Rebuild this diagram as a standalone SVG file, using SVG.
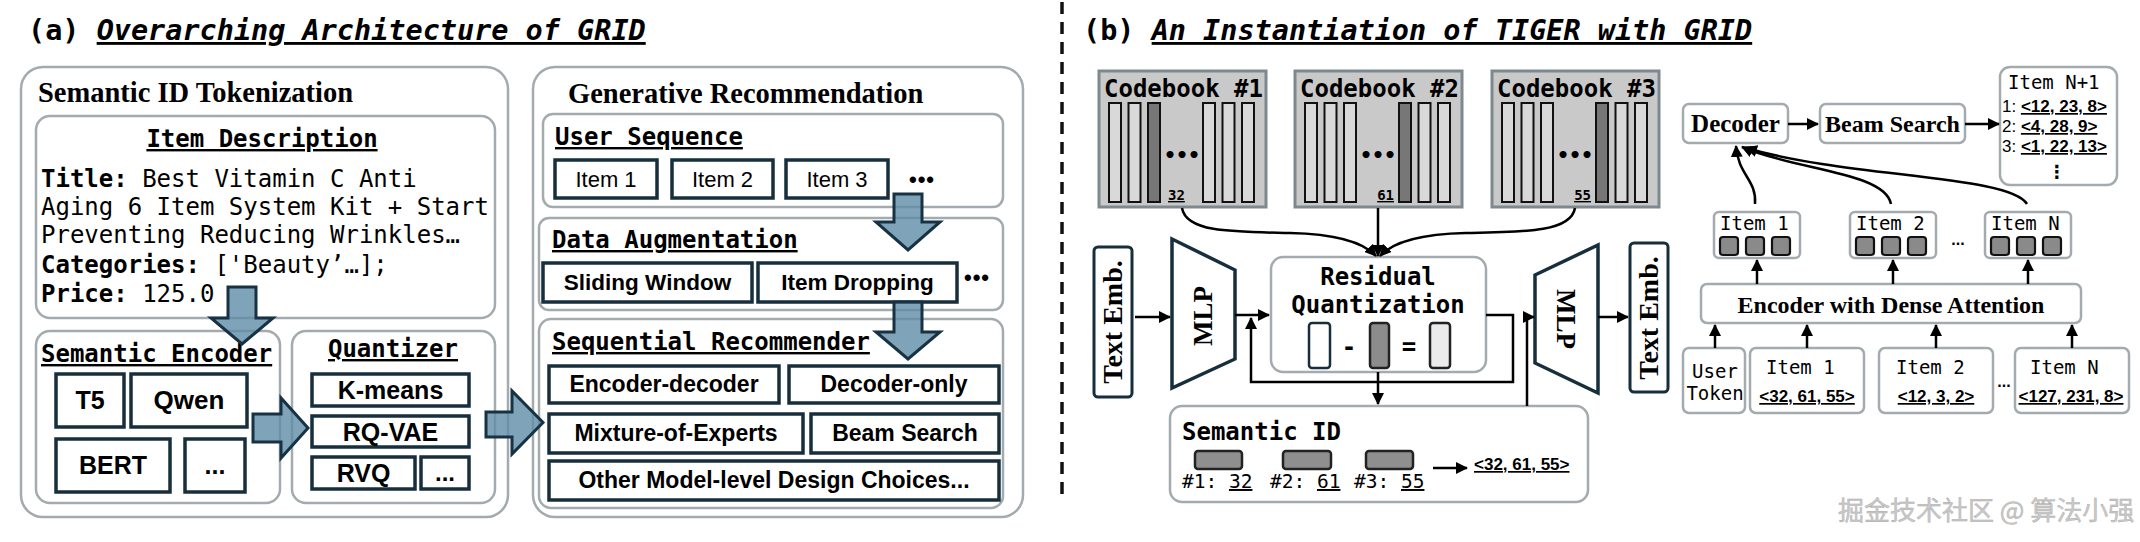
<svg xmlns="http://www.w3.org/2000/svg" width="2140" height="542" viewBox="0 0 2140 542">
<defs>
<style>
.gbox{fill:#fff;stroke:#a3abae;stroke-width:2.5}
.nbox{fill:#fff;stroke:#172f3c;stroke-width:3.5}
.mono{font-family:"DejaVu Sans Mono","Liberation Mono",monospace}
.b{font-weight:bold}
.serif{font-family:"Liberation Serif","DejaVu Serif",serif;font-weight:bold}
.sans{font-family:"Liberation Sans",Arial,sans-serif}
.u{text-decoration:underline}
.mid{text-anchor:middle}
.big{fill:#5f8ca6;fill-opacity:0.8;stroke:#173243;stroke-width:3;stroke-linejoin:miter}
.line{fill:none;stroke:#000;stroke-width:2.5}
.cb{fill:#c9c9c9;stroke:#7d898e;stroke-width:3}
.bar{fill:#d9d9d9;stroke:#111;stroke-width:2}
.bard{fill:#777;stroke:#111;stroke-width:2}
.sq{fill:#8a8a8a;stroke:#111;stroke-width:2.2}
</style>
<marker id="ah" viewBox="0 0 12 12" refX="11" refY="6" markerWidth="12" markerHeight="12" markerUnits="userSpaceOnUse" orient="auto">
<path d="M0,0 L12,6 L0,12 z" fill="#000"/>
</marker>
</defs>
<rect width="2140" height="542" fill="#fff"/>

<!-- Titles -->
<text x="28" y="40" class="mono b" font-size="28.5">(a) <tspan font-style="italic" class="u">Overarching Architecture of GRID</tspan></text>
<text x="1083" y="40" class="mono b" font-size="28.5">(b) <tspan font-style="italic" class="u">An Instantiation of TIGER with GRID</tspan></text>

<line x1="1062" y1="2" x2="1062" y2="498" stroke="#111" stroke-width="3.5" stroke-dasharray="12 8"/>

<!-- Panel (a) left -->
<g id="tokenization">
<rect x="21" y="67" width="487" height="450" rx="22" class="gbox"/>
<text x="38" y="102" class="serif" font-size="28.5">Semantic ID Tokenization</text>
</g>
<g id="item-description">
<rect x="36" y="116" width="459" height="202" rx="14" class="gbox"/>
<text x="262" y="147" class="mono b u mid" font-size="24">Item Description</text>
<text x="41" y="187" class="mono" font-size="24"><tspan font-weight="bold">Title:</tspan> Best Vitamin C Anti</text>
<text x="41" y="215" class="mono" font-size="24">Aging 6 Item System Kit + Start</text>
<text x="41" y="243" class="mono" font-size="24">Preventing Reducing Wrinkles…</text>
<text x="41" y="273" class="mono" font-size="24"><tspan font-weight="bold">Categories:</tspan> ['Beauty’…];</text>
<text x="41" y="302" class="mono" font-size="24"><tspan font-weight="bold">Price:</tspan> 125.0</text>
</g>
<g id="semantic-encoder">
<rect x="36" y="331" width="244" height="172" rx="14" class="gbox"/>
<text x="41" y="362" class="mono b u" font-size="24">Semantic Encoder</text>
<rect x="56" y="374" width="68" height="53" class="nbox"/>
<text x="90" y="409" class="sans b mid" font-size="25">T5</text>
<rect x="131" y="374" width="116" height="53" class="nbox"/>
<text x="189" y="409" class="sans b mid" font-size="26">Qwen</text>
<rect x="56" y="439" width="114" height="53" class="nbox"/>
<text x="113" y="474" class="sans b mid" font-size="25">BERT</text>
<rect x="185" y="439" width="60" height="53" class="nbox"/>
<text x="215" y="474" class="sans b mid" font-size="25">...</text>
</g>
<g id="quantizer">
<rect x="292" y="331" width="203" height="172" rx="14" class="gbox"/>
<text x="393" y="357" class="mono b u mid" font-size="24">Quantizer</text>
<rect x="312" y="374" width="157" height="32" class="nbox"/>
<text x="390.5" y="399" class="sans b mid" font-size="25">K-means</text>
<rect x="312" y="416" width="157" height="31" class="nbox"/>
<text x="390.5" y="441" class="sans b mid" font-size="25">RQ-VAE</text>
<rect x="312" y="457" width="103" height="32" class="nbox"/>
<text x="363.5" y="482" class="sans b mid" font-size="25">RVQ</text>
<rect x="421" y="457" width="48" height="32" class="nbox"/>
<text x="445" y="481" class="sans b mid" font-size="24">...</text>
</g>

<!-- Panel (a) right -->
<g id="generative">
<rect x="533" y="67" width="490" height="450" rx="22" class="gbox"/>
<text x="568" y="103" class="serif" font-size="28.5">Generative Recommendation</text>
</g>
<g id="user-sequence">
<rect x="543" y="114" width="460" height="93" rx="10" class="gbox"/>
<text x="555" y="145" class="mono b u" font-size="24">User Sequence</text>
<rect x="555" y="160" width="102" height="38" class="nbox"/>
<text x="606" y="187" class="sans mid" font-size="22">Item 1</text>
<rect x="672" y="160" width="101" height="38" class="nbox"/>
<text x="722.5" y="187" class="sans mid" font-size="22">Item 2</text>
<rect x="786" y="160" width="102" height="38" class="nbox"/>
<text x="837" y="187" class="sans mid" font-size="22">Item 3</text>
<text x="922" y="187" class="sans b mid" font-size="22" letter-spacing="1">•••</text>
</g>
<g id="data-augmentation">
<rect x="539" y="218" width="464" height="92" rx="10" class="gbox"/>
<text x="552" y="248" class="mono b u" font-size="24">Data Augmentation</text>
<rect x="543" y="263" width="209" height="39" class="nbox"/>
<text x="647.5" y="290" class="sans b mid" font-size="22.5">Sliding Window</text>
<rect x="758" y="263" width="199" height="39" class="nbox"/>
<text x="857.5" y="290" class="sans b mid" font-size="22.5">Item Dropping</text>
<text x="977" y="285" class="sans b mid" font-size="22" letter-spacing="1">•••</text>
</g>
<g id="sequential-recommender">
<rect x="539" y="319" width="464" height="189" rx="12" class="gbox"/>
<text x="552" y="350" class="mono b u" font-size="24">Sequential Recommender</text>
<rect x="549" y="366" width="230" height="37" class="nbox"/>
<text x="664" y="392" class="sans b mid" font-size="23">Encoder-decoder</text>
<rect x="789" y="366" width="210" height="37" class="nbox"/>
<text x="894" y="392" class="sans b mid" font-size="23">Decoder-only</text>
<rect x="549" y="414" width="254" height="39" class="nbox"/>
<text x="676" y="441" class="sans b mid" font-size="23">Mixture-of-Experts</text>
<rect x="811" y="414" width="188" height="39" class="nbox"/>
<text x="905" y="441" class="sans b mid" font-size="23">Beam Search</text>
<rect x="549" y="461" width="450" height="39" class="nbox"/>
<text x="774" y="488" class="sans b mid" font-size="23">Other Model-level Design Choices...</text>
</g>

<!-- Panel (b) codebooks -->
<g id="codebook-1">
<rect x="1099" y="71" width="167" height="136" class="cb"/>
<text x="1104" y="97" class="mono b" font-size="24">Codebook #1</text>
<rect x="1109" y="103" width="12" height="99" class="bar"/>
<rect x="1128.5" y="103" width="12" height="99" class="bar"/>
<rect x="1148" y="103" width="12" height="99" class="bard"/>
<rect x="1203" y="103" width="12" height="99" class="bar"/>
<rect x="1222.5" y="103" width="12" height="99" class="bar"/>
<rect x="1242" y="103" width="12" height="99" class="bar"/>
<text x="1182" y="162" class="mono b mid" font-size="20">•••</text>
<text x="1168" y="200" class="mono b u" font-size="14">32</text>
</g>
<g id="codebook-2">
<rect x="1295" y="71" width="167" height="136" class="cb"/>
<text x="1300" y="97" class="mono b" font-size="24">Codebook #2</text>
<rect x="1305" y="103" width="12" height="99" class="bar"/>
<rect x="1324.5" y="103" width="12" height="99" class="bar"/>
<rect x="1344" y="103" width="12" height="99" class="bar"/>
<rect x="1399" y="103" width="12" height="99" class="bard"/>
<rect x="1418.5" y="103" width="12" height="99" class="bar"/>
<rect x="1438" y="103" width="12" height="99" class="bar"/>
<text x="1378" y="162" class="mono b mid" font-size="20">•••</text>
<text x="1394" y="200" class="mono b u" font-size="14" text-anchor="end">61</text>
</g>
<g id="codebook-3">
<rect x="1492" y="71" width="167" height="136" class="cb"/>
<text x="1497" y="97" class="mono b" font-size="24">Codebook #3</text>
<rect x="1502" y="103" width="12" height="99" class="bar"/>
<rect x="1521.5" y="103" width="12" height="99" class="bar"/>
<rect x="1541" y="103" width="12" height="99" class="bar"/>
<rect x="1596" y="103" width="12" height="99" class="bard"/>
<rect x="1615.5" y="103" width="12" height="99" class="bar"/>
<rect x="1635" y="103" width="12" height="99" class="bar"/>
<text x="1575" y="162" class="mono b mid" font-size="20">•••</text>
<text x="1591" y="200" class="mono b u" font-size="14" text-anchor="end">55</text>
</g>

<g id="text-emb-left">
<rect x="1094" y="247" width="38" height="150" rx="4" fill="#fff" stroke="#172f3c" stroke-width="3"/>
<text transform="translate(1122,322) rotate(-90)" class="serif mid" font-size="28" font-weight="normal">Text Emb.</text>
</g>
<g id="mlp-left">
<polygon points="1172,239 1235,270 1235,359 1172,388" fill="#fff" stroke="#172f3c" stroke-width="3.5"/>
<text transform="translate(1212,316) rotate(-90)" class="serif mid" font-size="27">MLP</text>
</g>
<g id="residual-quantization">
<rect x="1271" y="257" width="215" height="115" rx="12" class="gbox"/>
<text x="1378" y="285" class="mono b mid" font-size="24">Residual</text>
<text x="1378" y="313" class="mono b mid" font-size="24">Quantization</text>
<rect x="1309" y="323" width="21" height="45" rx="3" fill="#fff" stroke="#172f3c" stroke-width="2.5"/>
<text x="1349" y="355" class="mono b mid" font-size="24">-</text>
<rect x="1370" y="323" width="19" height="45" rx="3" fill="#8c8c8c" stroke="#222" stroke-width="2.5"/>
<text x="1409" y="355" class="mono b mid" font-size="24">=</text>
<rect x="1430" y="323" width="20" height="45" rx="3" fill="#ebebeb" stroke="#222" stroke-width="2.5"/>
</g>
<g id="semantic-id">
<rect x="1170" y="406" width="418" height="96" rx="12" class="gbox"/>
<text x="1182" y="440" class="mono b" font-size="24">Semantic ID</text>
<rect x="1195" y="451" width="47" height="18" rx="3" fill="#8f8f8f" stroke="#222" stroke-width="2.5"/>
<rect x="1283" y="451" width="48" height="18" rx="3" fill="#8f8f8f" stroke="#222" stroke-width="2.5"/>
<rect x="1366" y="451" width="47" height="18" rx="3" fill="#8f8f8f" stroke="#222" stroke-width="2.5"/>
<text x="1182" y="488" class="mono" font-size="19.5">#1: <tspan class="u">32</tspan></text>
<text x="1270" y="488" class="mono" font-size="19.5">#2: <tspan class="u">61</tspan></text>
<text x="1354" y="488" class="mono" font-size="19.5">#3: <tspan class="u">55</tspan></text>
<text x="1474" y="470" class="sans b u" font-size="17">&lt;32, 61, 55&gt;</text>
</g>
<g id="mlp-right">
<polygon points="1535,275 1598,245 1598,393 1535,363" fill="#fff" stroke="#172f3c" stroke-width="3.5"/>
<text transform="translate(1557,319) rotate(90)" class="serif mid" font-size="27">MLP</text>
</g>
<g id="text-emb-right">
<rect x="1630" y="243" width="38" height="149" rx="4" fill="#fff" stroke="#172f3c" stroke-width="3"/>
<text transform="translate(1658,318) rotate(-90)" class="serif mid" font-size="28" font-weight="normal">Text Emb.</text>
</g>

<!-- TIGER right side -->
<g id="decoder">
<rect x="1683" y="104" width="105" height="39" rx="6" class="gbox"/>
<text x="1735.5" y="132" class="serif mid" font-size="25">Decoder</text>
</g>
<g id="beam-search">
<rect x="1820" y="104" width="145" height="39" rx="6" class="gbox"/>
<text x="1892.5" y="132" class="serif mid" font-size="24">Beam Search</text>
</g>
<g id="item-n1">
<rect x="2000" y="67" width="117" height="118" rx="10" class="gbox"/>
<text x="2008" y="89" class="mono" font-size="19">Item N+1</text>
<text x="2002" y="112" class="sans" font-size="17">1: <tspan font-weight="bold" class="u">&lt;12, 23, 8&gt;</tspan></text>
<text x="2002" y="132" class="sans" font-size="17">2: <tspan font-weight="bold" class="u">&lt;4, 28, 9&gt;</tspan></text>
<text x="2002" y="152" class="sans" font-size="17">3: <tspan font-weight="bold" class="u">&lt;1, 22, 13&gt;</tspan></text>
<text x="2057" y="178" font-family="DejaVu Sans, sans-serif" font-weight="bold" font-size="18" text-anchor="middle">⋮</text>
</g>
<g id="out-item-1">
<rect x="1714" y="212" width="86" height="46" rx="5" class="gbox"/>
<text x="1720" y="230" class="mono" font-size="19">Item 1</text>
<rect x="1720" y="237" width="18" height="18" rx="3" class="sq"/>
<rect x="1746" y="237" width="18" height="18" rx="3" class="sq"/>
<rect x="1772" y="237" width="18" height="18" rx="3" class="sq"/>
</g>
<g id="out-item-2">
<rect x="1850" y="212" width="86" height="46" rx="5" class="gbox"/>
<text x="1856" y="230" class="mono" font-size="19">Item 2</text>
<rect x="1856" y="237" width="18" height="18" rx="3" class="sq"/>
<rect x="1882" y="237" width="18" height="18" rx="3" class="sq"/>
<rect x="1908" y="237" width="18" height="18" rx="3" class="sq"/>
</g>
<text x="1958" y="245" class="sans b mid" font-size="16">...</text>
<g id="out-item-n">
<rect x="1985" y="212" width="86" height="46" rx="5" class="gbox"/>
<text x="1991" y="230" class="mono" font-size="19">Item N</text>
<rect x="1991" y="237" width="18" height="18" rx="3" class="sq"/>
<rect x="2017" y="237" width="18" height="18" rx="3" class="sq"/>
<rect x="2043" y="237" width="18" height="18" rx="3" class="sq"/>
</g>
<g id="encoder">
<rect x="1701" y="284" width="380" height="39" rx="6" class="gbox"/>
<text x="1891" y="313" class="serif mid" font-size="24">Encoder with Dense Attention</text>
</g>
<g id="user-token">
<rect x="1683" y="348" width="62" height="65" rx="6" class="gbox"/>
<text x="1715" y="378" class="mono mid" font-size="19">User</text>
<text x="1715" y="400" class="mono mid" font-size="19">Token</text>
</g>
<g id="in-item-1">
<rect x="1750" y="348" width="114" height="65" rx="6" class="gbox"/>
<text x="1766" y="374" class="mono" font-size="19">Item 1</text>
<text x="1807" y="402" class="sans b u mid" font-size="17">&lt;32, 61, 55&gt;</text>
</g>
<g id="in-item-2">
<rect x="1879" y="348" width="114" height="65" rx="6" class="gbox"/>
<text x="1896" y="374" class="mono" font-size="19">Item 2</text>
<text x="1936" y="402" class="sans b u mid" font-size="17">&lt;12, 3, 2&gt;</text>
</g>
<text x="2004" y="387" class="sans b mid" font-size="16">...</text>
<g id="in-item-n">
<rect x="2015" y="348" width="114" height="65" rx="6" class="gbox"/>
<text x="2030" y="374" class="mono" font-size="19">Item N</text>
<text x="2071" y="402" class="sans b u mid" font-size="17">&lt;127, 231, 8&gt;</text>
</g>

<!-- Connectors -->
<g id="connectors">
<polygon class="big" points="228,287 256,287 256,318 273,318 242,344 211,318 228,318"/>
<polygon class="big" points="253,414 281,414 281,398 308,428 281,458 281,442 253,442"/>
<polygon class="big" points="486,412 512,412 512,391 543,422.5 512,454 512,437 486,437"/>
<polygon class="big" points="894,194 922,194 922,222 940,222 908,250 876,222 894,222"/>
<polygon class="big" points="894,302 922,302 922,332 940,332 908,359 876,332 894,332"/>

<path class="line" d="M1182,208 C1186,232 1230,232 1290,233 C1340,234 1364,243 1376,256" marker-end="url(#ah)"/>
<path class="line" d="M1378,208 V256" marker-end="url(#ah)"/>
<path class="line" d="M1575,208 C1571,232 1526,232 1466,233 C1416,234 1392,243 1380,256" marker-end="url(#ah)"/>

<path class="line" d="M1135,317 H1170" marker-end="url(#ah)"/>
<path class="line" d="M1235,315 H1269" marker-end="url(#ah)"/>
<path class="line" d="M1486,315 H1513 V382 H1251 V318" marker-end="url(#ah)"/>
<path class="line" d="M1378,372 V404" marker-end="url(#ah)"/>
<path class="line" d="M1527,406 V317 H1534" marker-end="url(#ah)"/>
<path class="line" d="M1598,317 H1628" marker-end="url(#ah)"/>
<path class="line" d="M1433,468 H1467" marker-end="url(#ah)"/>

<path class="line" d="M1788,124 H1818" marker-end="url(#ah)"/>
<path class="line" d="M1965,124 H1999" marker-end="url(#ah)"/>

<path class="line" d="M1755,204 C1757,180 1738,175 1736,146" marker-end="url(#ah)"/>
<path class="line" d="M1891,204 C1885,172 1795,170 1742,147" marker-end="url(#ah)"/>
<path class="line" d="M2027,204 C2010,175 1850,178 1746,148" marker-end="url(#ah)"/>

<path class="line" d="M1757,284 V260" marker-end="url(#ah)"/>
<path class="line" d="M1893,284 V260" marker-end="url(#ah)"/>
<path class="line" d="M2028,284 V260" marker-end="url(#ah)"/>

<path class="line" d="M1715,348 V325" marker-end="url(#ah)"/>
<path class="line" d="M1807,348 V325" marker-end="url(#ah)"/>
<path class="line" d="M1936,348 V325" marker-end="url(#ah)"/>
<path class="line" d="M2072,348 V325" marker-end="url(#ah)"/>
</g>

<text x="1838" y="520" font-family="'Noto Sans CJK SC', sans-serif" font-size="26" fill="#cacaca" stroke="#a8a8a8" stroke-width="0.4">掘金技术社区 @ 算法小强</text>
</svg>
